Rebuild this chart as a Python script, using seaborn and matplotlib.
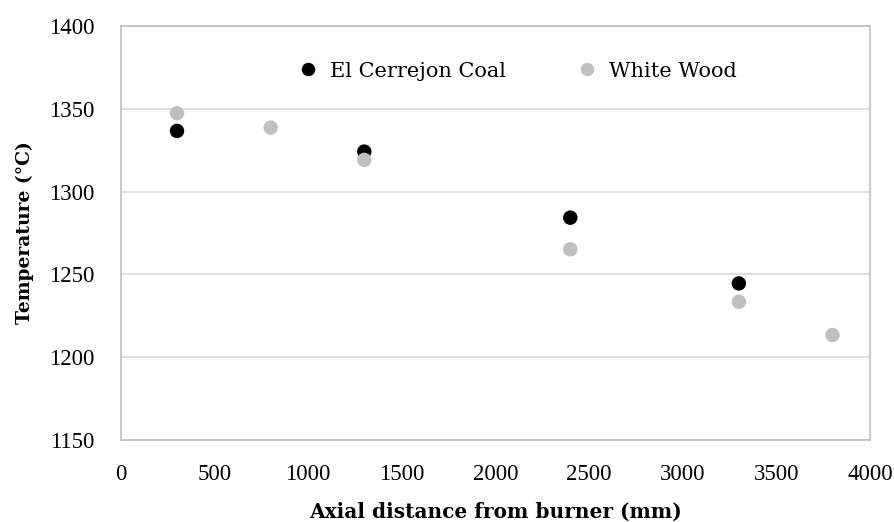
import matplotlib
matplotlib.use("Agg")
import matplotlib.pyplot as plt
import seaborn as sns
import pandas as pd

coal_x = [300, 1300, 2400, 3300]
coal_t = [1336.7, 1324.2, 1284.3, 1244.6]
wood_x = [300, 800, 1300, 2400, 3300, 3800]
wood_t = [1347.4, 1338.7, 1319.2, 1265.2, 1233.5, 1213.4]
series_names = ["El Cerrejon Coal", "White Wood"]
x_ticks = [0, 500, 1000, 1500, 2000, 2500, 3000, 3500, 4000]
y_ticks = [1150, 1200, 1250, 1300, 1350, 1400]

df = pd.concat([
    pd.DataFrame({"x": coal_x, "t": coal_t, "s": series_names[0]}),
    pd.DataFrame({"x": wood_x, "t": wood_t, "s": series_names[1]}),
])

sns.set_theme(style="white")
plt.rcParams["font.family"] = ["DejaVu Serif"]

fig = plt.figure(figsize=(8.95, 5.22), dpi=100)
ax = fig.add_axes([0.135, 0.157, 0.837, 0.793])

sns.scatterplot(data=df, x="x", y="t", hue="s", hue_order=series_names,
                palette=["#000000", "#BFBFBF"], s=108, edgecolor="none",
                ax=ax, zorder=3)

ax.set_xlim(0, 4000)
ax.set_ylim(1150, 1400)
ax.set_xticks(x_ticks)
ax.set_yticks(y_ticks)
ax.tick_params(axis="both", length=0, colors="#000000")
ax.tick_params(axis="x", pad=17)
ax.tick_params(axis="y", pad=19)
for lab in ax.get_xticklabels() + ax.get_yticklabels():
    lab.set_fontfamily(["Liberation Serif"])
    lab.set_fontsize(16.5)
ax.yaxis.grid(True, color="#D9D9D9", linewidth=1.2)
ax.xaxis.grid(False)
for sp in ax.spines.values():
    sp.set_color("#BFBFBF")
    sp.set_linewidth(1.2)

ax.set_xlabel("Axial distance from burner (mm)", fontsize=14.5, fontweight="bold",
              labelpad=12.5, color="#000000")
ax.set_ylabel("Temperature (°C)", fontsize=13.5, fontweight="bold",
              labelpad=11, color="#000000")

leg = ax.legend(loc="center", bbox_to_anchor=(0.529, 0.891), ncol=2, frameon=False,
                fontsize=15, columnspacing=3.4, handletextpad=0.55,
                handlelength=1.0, markerscale=0.93)
for t in leg.get_texts():
    t.set_color("#000000")

fig.savefig("out.png", dpi=100)
